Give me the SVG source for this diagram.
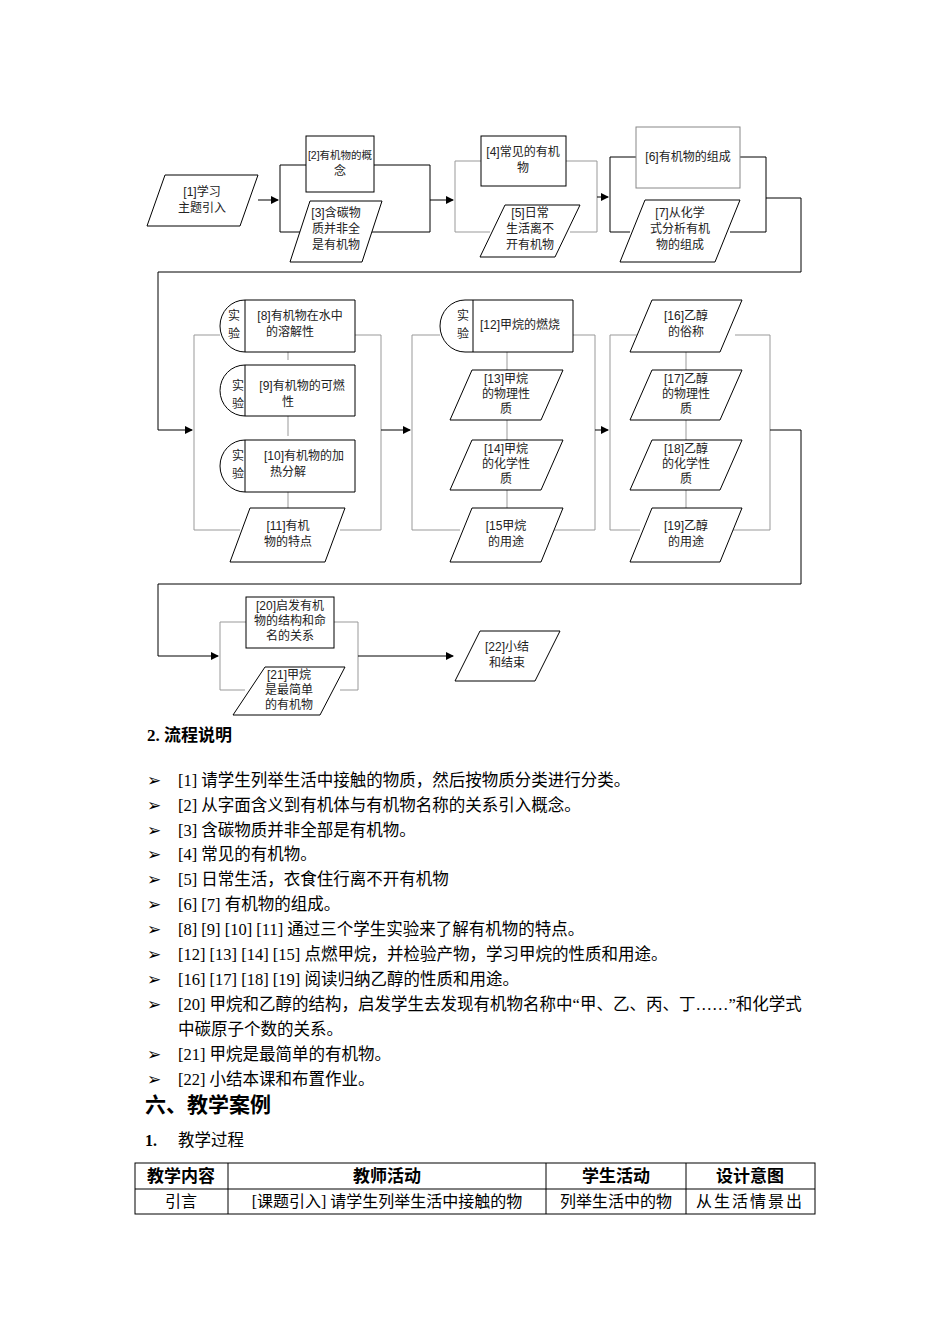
<svg xmlns="http://www.w3.org/2000/svg" width="950" height="1344" viewBox="0 0 950 1344">
<style>
.b{fill:#fff;stroke:#000;stroke-width:1}
.g{fill:#fff;stroke:#888;stroke-width:1}
.l{fill:none;stroke:#000;stroke-width:1}
.lg{fill:none;stroke:#999;stroke-width:1}
.t{font-family:"Liberation Sans","Noto Sans CJK SC",sans-serif;font-size:12px;text-anchor:middle;fill:#222}
.s{font-family:"Liberation Serif","Noto Sans CJK SC",serif;font-size:16.5px;fill:#000}
.h{font-family:"Liberation Serif","Noto Sans CJK SC",serif;font-weight:bold;fill:#000}
.c{font-family:"Liberation Serif","Noto Sans CJK SC",serif;font-size:16px;text-anchor:middle;fill:#000}
.ch{font-weight:bold;font-size:17px}
</style>
<defs><marker id="a" markerWidth="8" markerHeight="8" refX="7" refY="4" orient="auto" markerUnits="userSpaceOnUse"><path d="M0,0L8,4L0,8z" fill="#000"/></marker></defs>
<g id="connectors">
<path class="l" d="M258,200H278" marker-end="url(#a)"/>
<path class="l" d="M306,165H280V232H300M374,165H430V232H370M430,200H453" marker-end="url(#a)"/>
<path class="lg" d="M481,161H455V232H490M566,161H597V232H570"/>
<path class="l" d="M597,197H608" marker-end="url(#a)"/>
<path class="l" d="M636,157H610V232H630M740,157H766V232H730"/>
<path class="l" d="M766,198H801V272H158V430H192" marker-end="url(#a)"/>
<path class="lg" d="M220,335H194V530H240M355,335H381V530H340M288,352V360M288,416V436M288,490V508"/>
<path class="l" d="M381,430H410" marker-end="url(#a)"/>
<path class="lg" d="M440,335H412V530H460M573,335H595V530H550M507,352V370M507,420V440M507,488V508"/>
<path class="l" d="M595,430H608" marker-end="url(#a)"/>
<path class="lg" d="M640,335H610V530H640M735,335H770V530H725M686,352V370M686,420V440M686,488V508"/>
<path class="l" d="M770,430H801V584H158V656H218" marker-end="url(#a)"/>
<path class="lg" d="M246,622H220V690H245M334,622H358V690H340"/>
<path class="l" d="M358,656H453" marker-end="url(#a)"/>
</g>
<g id="n1"><polygon class="b" points="165,175 258,175 240,226 147,226"/><text class="t" x="202" y="196">[1]学习</text><text class="t" x="202" y="212">主题引入</text></g>
<g id="n2"><rect class="b" x="306" y="136" width="68" height="56"/><text class="t" x="340" y="159" style="font-size:10.5px">[2]有机物的概</text><text class="t" x="340" y="175">念</text></g>
<g id="n3"><polygon class="b" points="310,201 382,201 362,262 290,262"/><text class="t" x="336" y="217">[3]含碳物</text><text class="t" x="336" y="233">质并非全</text><text class="t" x="336" y="249">是有机物</text></g>
<g id="n4"><rect class="b" x="481" y="136" width="85" height="50"/><text class="t" x="523" y="156">[4]常见的有机</text><text class="t" x="523" y="172">物</text></g>
<g id="n5"><polygon class="b" points="505,205 580,205 555,257 480,257"/><text class="t" x="530" y="217">[5]日常</text><text class="t" x="530" y="233">生活离不</text><text class="t" x="530" y="249">开有机物</text></g>
<g id="n6"><rect class="g" x="636" y="127" width="104" height="61"/><text class="t" x="688" y="161">[6]有机物的组成</text></g>
<g id="n7"><polygon class="b" points="645,200 740,200 715,262 620,262"/><text class="t" x="680" y="217">[7]从化学</text><text class="t" x="680" y="233">式分析有机</text><text class="t" x="680" y="249">物的组成</text></g>
<g id="n8"><path class="b" d="M245,300H355V352H245A25,26 0 0 1 245,300Z"/><line class="l" x1="245" y1="300" x2="245" y2="352"/><text class="t" x="234" y="320">实</text><text class="t" x="234" y="338">验</text><text class="t" x="300" y="320">[8]有机物在水中</text><text class="t" x="290" y="336">的溶解性</text></g>
<g id="n9"><path class="b" d="M245,365H355V416H245A25,25.5 0 0 1 245,365Z"/><line class="l" x1="245" y1="365" x2="245" y2="416"/><text class="t" x="238" y="390">实</text><text class="t" x="238" y="408">验</text><text class="t" x="302" y="390">[9]有机物的可燃</text><text class="t" x="288" y="406">性</text></g>
<g id="n10"><path class="b" d="M245,440H355V492H245A25,26 0 0 1 245,440Z"/><line class="l" x1="245" y1="440" x2="245" y2="492"/><text class="t" x="238" y="460">实</text><text class="t" x="238" y="478">验</text><text class="t" x="304" y="460">[10]有机物的加</text><text class="t" x="288" y="476">热分解</text></g>
<g id="n11"><polygon class="b" points="250,508 345,508 325,562 230,562"/><text class="t" x="288" y="530">[11]有机</text><text class="t" x="288" y="546">物的特点</text></g>
<g id="n12"><path class="b" d="M465,300H573V352H465A25,26 0 0 1 465,300Z"/><line class="l" x1="473" y1="300" x2="473" y2="352"/><text class="t" x="463" y="320">实</text><text class="t" x="463" y="338">验</text><text class="t" x="520" y="329">[12]甲烷的燃烧</text></g>
<g id="n13"><polygon class="b" points="472,370 563,370 541,420 450,420"/><text class="t" x="506" y="383">[13]甲烷</text><text class="t" x="506" y="398">的物理性</text><text class="t" x="506" y="413">质</text></g>
<g id="n14"><polygon class="b" points="472,440 563,440 541,490 450,490"/><text class="t" x="506" y="453">[14]甲烷</text><text class="t" x="506" y="468">的化学性</text><text class="t" x="506" y="483">质</text></g>
<g id="n15"><polygon class="b" points="472,508 563,508 541,562 450,562"/><text class="t" x="506" y="530">[15甲烷</text><text class="t" x="506" y="546">的用途</text></g>
<g id="n16"><polygon class="b" points="652,300 742,300 720,352 630,352"/><text class="t" x="686" y="320">[16]乙醇</text><text class="t" x="686" y="336">的俗称</text></g>
<g id="n17"><polygon class="b" points="652,370 742,370 720,420 630,420"/><text class="t" x="686" y="383">[17]乙醇</text><text class="t" x="686" y="398">的物理性</text><text class="t" x="686" y="413">质</text></g>
<g id="n18"><polygon class="b" points="652,440 742,440 720,490 630,490"/><text class="t" x="686" y="453">[18]乙醇</text><text class="t" x="686" y="468">的化学性</text><text class="t" x="686" y="483">质</text></g>
<g id="n19"><polygon class="b" points="652,508 742,508 720,562 630,562"/><text class="t" x="686" y="530">[19]乙醇</text><text class="t" x="686" y="546">的用途</text></g>
<g id="n20"><rect class="b" x="246" y="597" width="88" height="51"/><text class="t" x="290" y="610">[20]启发有机</text><text class="t" x="290" y="625">物的结构和命</text><text class="t" x="290" y="640">名的关系</text></g>
<g id="n21"><polygon class="b" points="265,667 345,667 320,715 233,715"/><text class="t" x="289" y="679">[21]甲烷</text><text class="t" x="289" y="694">是最简单</text><text class="t" x="289" y="709">的有机物</text></g>
<g id="n22"><polygon class="b" points="480,631 560,631 535,681 455,681"/><text class="t" x="507" y="651">[22]小结</text><text class="t" x="507" y="667">和结束</text></g>
<text class="h" x="147" y="741" font-size="17">2. 流程说明</text>
<g class="s">
<text x="147" y="786">➢</text><text x="178" y="786">[1] 请学生列举生活中接触的物质，然后按物质分类进行分类。</text>
<text x="147" y="811">➢</text><text x="178" y="811">[2] 从字面含义到有机体与有机物名称的关系引入概念。</text>
<text x="147" y="836">➢</text><text x="178" y="836">[3] 含碳物质并非全部是有机物。</text>
<text x="147" y="860">➢</text><text x="178" y="860">[4] 常见的有机物。</text>
<text x="147" y="885">➢</text><text x="178" y="885">[5] 日常生活，衣食住行离不开有机物</text>
<text x="147" y="910">➢</text><text x="178" y="910">[6] [7] 有机物的组成。</text>
<text x="147" y="935">➢</text><text x="178" y="935">[8] [9] [10] [11] 通过三个学生实验来了解有机物的特点。</text>
<text x="147" y="960">➢</text><text x="178" y="960">[12] [13] [14] [15] 点燃甲烷，并检验产物，学习甲烷的性质和用途。</text>
<text x="147" y="985">➢</text><text x="178" y="985">[16] [17] [18] [19] 阅读归纳乙醇的性质和用途。</text>
<text x="147" y="1010">➢</text><text x="178" y="1010">[20] 甲烷和乙醇的结构，启发学生去发现有机物名称中“甲、乙、丙、丁……”和化学式</text>
<text x="178" y="1035">中碳原子个数的关系。</text>
<text x="147" y="1060">➢</text><text x="178" y="1060">[21] 甲烷是最简单的有机物。</text>
<text x="147" y="1085">➢</text><text x="178" y="1085">[22] 小结本课和布置作业。</text>
</g>
<text class="h" x="145" y="1112" font-size="21">六、教学案例</text>
<text class="h" x="145" y="1146" font-size="16">1.</text><text class="s" x="178" y="1146">教学过程</text>
<g id="table">
<rect class="l" x="135" y="1163" width="680" height="51"/>
<path class="l" d="M135,1189H815M228,1163V1214M546,1163V1214M686,1163V1214"/>
<text class="c ch" x="181" y="1182">教学内容</text>
<text class="c ch" x="387" y="1182">教师活动</text>
<text class="c ch" x="616" y="1182">学生活动</text>
<text class="c ch" x="750" y="1182">设计意图</text>
<text class="c" x="181" y="1207">引言</text>
<text class="c" x="387" y="1207">[课题引入] 请学生列举生活中接触的物</text>
<text class="c" x="616" y="1207">列举生活中的物</text>
<text class="c" x="750" y="1207" letter-spacing="2">从生活情景出</text>
</g>
</svg>
